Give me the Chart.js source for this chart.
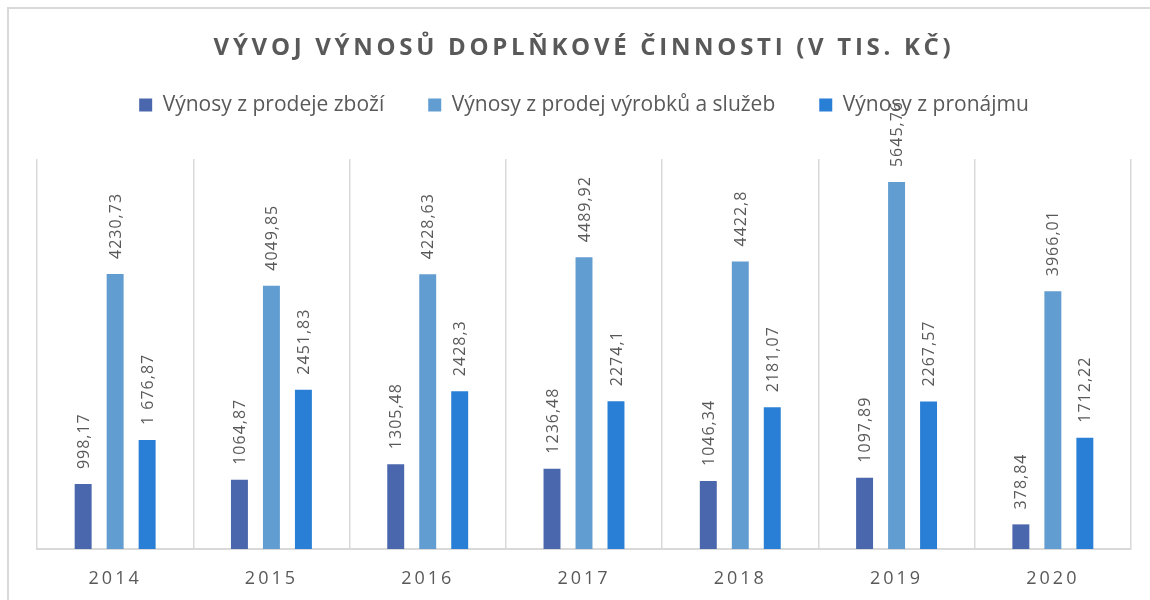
<!DOCTYPE html>
<html>
<head>
<meta charset="utf-8">
<script src="https://cdn.jsdelivr.net/npm/chart.js@4"></script>
<style>
  html, body { margin: 0; padding: 0; background: #ffffff; }
  #wrap { position: relative; width: 1150px; height: 600px; overflow: hidden; }
  #frame { position: absolute; left: 7px; top: 7px; width: 1200px; height: 700px;
           border-top: 2px solid #d9d9d9; border-left: 2px solid #d9d9d9; }
  canvas { position: absolute; left: 0; top: 0; }
</style>
</head>
<body>
<div id="wrap">
  <div id="frame"></div>
  <canvas id="c" width="1150" height="600"></canvas>
</div>
<script>
const titleText = 'VÝVOJ VÝNOSŮ DOPLŇKOVÉ ČINNOSTI (V TIS. KČ)';
const years = ['2014', '2015', '2016', '2017', '2018', '2019', '2020'];
const seriesNames = ['Výnosy z prodeje zboží', 'Výnosy z prodej výrobků a služeb', 'Výnosy z pronájmu'];
const seriesColors = ['#4a66ac', '#629dd1', '#297fd5'];
// value labels exactly as printed in the reference
const labelsZbozi   = ['998,17', '1064,87', '1305,48', '1236,48', '1046,34', '1097,89', '378,84'];
const labelsVyrobky = ['4230,73', '4049,85', '4228,63', '4489,92', '4422,8', '5645,76', '3966,01'];
const labelsPronajem = ['1 676,87', '2451,83', '2428,3', '2274,1', '2181,07', '2267,57', '1712,22'];

const toNum = s => parseFloat(s.replace(/\s/g, '').replace(',', '.'));
const valuesZbozi = labelsZbozi.map(toNum);
const valuesVyrobky = labelsVyrobky.map(toNum);
const valuesPronajem = labelsPronajem.map(toNum);
const seriesLabels = [labelsZbozi, labelsVyrobky, labelsPronajem];
const seriesValues = [valuesZbozi, valuesVyrobky, valuesPronajem];

const textColor = '#595959';

const spacingPlugin = {
  id: 'spacing',
  beforeDraw(chart) {
    if (chart.$wrapped) return;
    chart.$wrapped = true;
    const wrap = (obj, name, spacing) => {
      const orig = obj[name];
      obj[name] = function (...args) {
        const ctx = chart.ctx;
        ctx.save();
        ctx.letterSpacing = spacing;
        orig.apply(this, args);
        ctx.restore();
      };
    };
    wrap(chart.scales.x, 'drawLabels', '3px');
    wrap(chart.titleBlock, 'draw', '3.7px');
  }
};

const valueLabelPlugin = {
  id: 'valueLabels',
  afterDatasetsDraw(chart) {
    const ctx = chart.ctx;
    ctx.save();
    ctx.font = '16px "Open Sans"';
    ctx.fillStyle = textColor;
    ctx.letterSpacing = '1px';
    ctx.textAlign = 'left';
    ctx.textBaseline = 'middle';
    chart.data.datasets.forEach((ds, di) => {
      const meta = chart.getDatasetMeta(di);
      meta.data.forEach((bar, i) => {
        ctx.save();
        ctx.translate(bar.x + 1, bar.y - 15);
        ctx.rotate(-Math.PI / 2);
        ctx.fillText(seriesLabels[di][i], 0, 0);
        ctx.restore();
      });
    });
    ctx.restore();
  }
};

new Chart(document.getElementById('c'), {
  type: 'bar',
  data: {
    labels: years,
    datasets: seriesNames.map((name, i) => ({
      label: name,
      data: seriesValues[i],
      backgroundColor: seriesColors[i],
      borderWidth: 0,
      categoryPercentage: 0.614,
      barPercentage: 0.53
    }))
  },
  options: {
    responsive: false,
    animation: false,
    devicePixelRatio: 1,
    layout: { padding: { left: 37, right: 19, top: 0, bottom: 0 } },
    plugins: {
      title: {
        display: true,
        text: titleText,
        color: textColor,
        font: { family: '"Open Sans"', size: 24, weight: 'bold', lineHeight: 1.2 },
        padding: { top: 34, bottom: -12.3 }
      },
      legend: {
        display: true,
        position: 'top',
        labels: {
          color: textColor,
          font: { family: '"Open Sans"', size: 21 },
          boxWidth: 13,
          boxHeight: 13,
          padding: 44
        }
      },
      tooltip: { enabled: false }
    },
    scales: {
      x: {
        grid: { display: true, color: '#d9d9d9', lineWidth: 1.5, drawTicks: false, offset: true },
        border: { display: true, color: '#d9d9d9', width: 2 },
        ticks: { color: textColor, font: { family: '"Open Sans"', size: 18 }, padding: 19 },
        afterFit(scale) { scale.height = 51; }
      },
      y: {
        display: false,
        min: 0,
        max: 6000
      }
    }
  },
  plugins: [spacingPlugin, valueLabelPlugin, {
    id: 'legendHeight',
    afterInit(chart) {
      const lg = chart.legend;
      const orig = lg.fit;
      lg.fit = function () { orig.call(this); this.height = 108.5; };
    }
  }]
});
</script>
</body>
</html>
